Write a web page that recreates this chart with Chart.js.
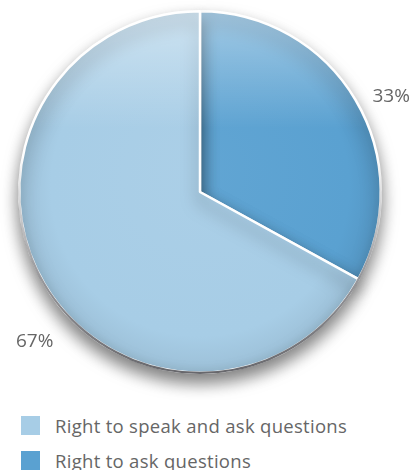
<!DOCTYPE html>
<html><head><meta charset="utf-8">
<script src="https://cdn.jsdelivr.net/npm/chart.js@4/dist/chart.umd.min.js"></script>
<style>
html,body{margin:0;padding:0;background:#fff;width:418px;height:470px;overflow:hidden;font-family:"Open Sans",sans-serif;}
#wrap{position:absolute;left:0;top:0;width:418px;height:400px;}
#legend{position:absolute;left:21px;top:408px;margin:0;padding:0;list-style:none;}
#legend li{display:flex;align-items:center;height:35px;color:#666;font-size:18.5px;letter-spacing:0.3px;white-space:nowrap;}
#legend span.box{display:inline-block;width:19px;height:19px;margin-right:15px;flex:none;}
</style></head>
<body>
<div id="wrap"><canvas id="c" width="418" height="400"></canvas></div>
<ul id="legend"></ul>
<script>
const categories = ["Right to ask questions", "Right to speak and ask questions"];
const values = [33, 67];
const pctLabels = ["33%", "67%"];
const colors = ["#5aa1d1", "#a7cde6"];
const legendOrder = [1, 0];

function shade(hex, f){
  const n=parseInt(hex.slice(1),16);let r=n>>16,g=(n>>8)&255,b=n&255;
  const m=v=>Math.max(0,Math.min(255,Math.round(f<0?v*(1+f):v+(255-v)*f)));
  return `rgb(${m(r)},${m(g)},${m(b)})`;
}
function geom(chart){
  const a=chart.chartArea;
  return {cx:(a.left+a.right)/2, cy:(a.top+a.bottom)/2, r:Math.min(a.right-a.left,a.bottom-a.top)/2};
}
function fill(ctx){
  const chart=ctx.chart;
  if(!chart.chartArea) return colors[ctx.dataIndex];
  const base=colors[ctx.dataIndex];
  const {cx,cy,r}=geom(chart);
  const g=chart.ctx.createRadialGradient(cx,cy-r*0.15,0,cx,cy,r);
  g.addColorStop(0,shade(base,0.04));
  g.addColorStop(0.82,base);
  g.addColorStop(0.95,shade(base,-0.05));
  g.addColorStop(1,shade(base,-0.1));
  return g;
}
const shadowPlugin={id:'shadow',
  beforeDatasetsDraw(chart){const c=chart.ctx;c.save();c.shadowColor='rgba(0,0,0,0.5)';c.shadowBlur=16;c.shadowOffsetY=9;},
  afterDatasetsDraw(chart){chart.ctx.restore();}
};
const gloss={id:'gloss',
  afterDatasetsDraw(chart){
    const c=chart.ctx;
    const {cx,cy,r}=geom(chart);
    c.save();c.beginPath();c.arc(cx,cy,r,0,Math.PI*2);c.clip();
    const g=c.createLinearGradient(0,cy-r,0,cy-r*0.35);
    g.addColorStop(0,'rgba(255,255,255,0.45)');g.addColorStop(1,'rgba(255,255,255,0)');
    c.fillStyle=g;c.fillRect(cx-r,cy-r,2*r,r*0.65);
    const s=c.createLinearGradient(0,cy-r*0.2,0,cy+r);
    s.addColorStop(0,'rgba(95,95,100,0)');s.addColorStop(0.5,'rgba(95,95,100,0.6)');s.addColorStop(1,'rgba(95,95,100,0.95)');
    c.strokeStyle=s;c.lineWidth=3.5;c.beginPath();c.arc(cx,cy,r-0.5,0,Math.PI*2);c.stroke();
    c.restore();
  }
};
const outLabels={id:'outLabels',
  afterDraw(chart,args,opts){
    const c=chart.ctx, meta=chart.getDatasetMeta(0);
    c.save();c.font='19px "Open Sans", sans-serif';c.fillStyle='#666';c.textAlign='center';c.textBaseline='middle';
    meta.data.forEach((arc,i)=>{
      const p=arc.getProps(['x','y','startAngle','endAngle','outerRadius']);
      const ang=(p.startAngle+p.endAngle)/2+opts.angleShift[i];
      const d=p.outerRadius+opts.dist[i];
      c.fillText(pctLabels[i],p.x+Math.cos(ang)*d,p.y+Math.sin(ang)*d);
    });
    c.restore();
  }
};
new Chart(document.getElementById('c'),{
  type:'pie',
  data:{labels:categories,datasets:[{data:values,backgroundColor:fill,borderColor:'#fff',borderWidth:2.5}]},
  options:{responsive:false,animation:false,
    layout:{padding:{left:18,right:36,top:10,bottom:26}},
    plugins:{legend:{display:false},tooltip:{enabled:false},
      outLabels:{angleShift:[0.07,-0.2],dist:[33,42]}}
  },
  plugins:[shadowPlugin,gloss,outLabels]
});
const ul=document.getElementById('legend');
legendOrder.forEach(i=>{
  const li=document.createElement('li');
  li.innerHTML=`<span class="box" style="background:${colors[i]}"></span>${categories[i]}`;
  ul.appendChild(li);
});
</script>
</body></html>
